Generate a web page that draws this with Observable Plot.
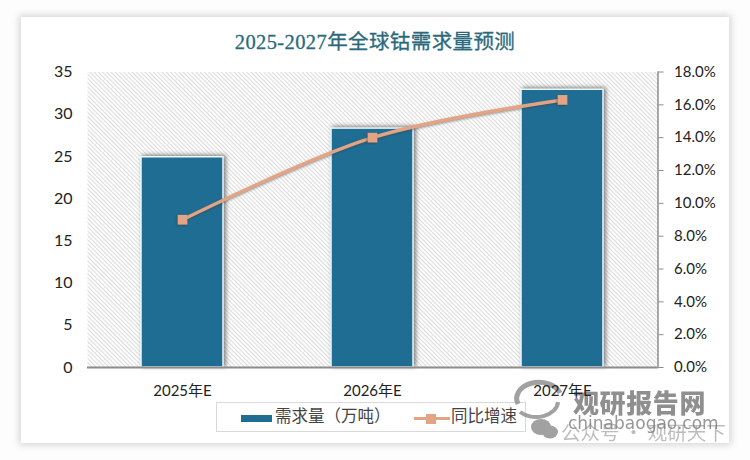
<!DOCTYPE html>
<html><head><meta charset="utf-8">
<script src="https://cdn.jsdelivr.net/npm/d3@7"></script>
<script src="https://cdn.jsdelivr.net/npm/@observablehq/plot@0.6"></script>
<style>
html,body{margin:0;padding:0;background:#fff;}
#wrap{position:relative;width:750px;height:460px;overflow:hidden;background:#fdfdfd;}
#card{position:absolute;left:21px;top:17px;width:708px;height:426px;background:#fff;box-shadow:0 0 7px 2px rgba(0,0,0,.16);}
#title{position:absolute;left:0;width:750px;top:27px;text-align:center;font:400 20.5px/30px "Liberation Serif","Noto Sans CJK SC",serif;-webkit-text-stroke:.3px #2a6a7c;color:#2a6a7c;letter-spacing:.4px;}
#plot{position:absolute;left:0;top:0;z-index:3;}
#legend{position:absolute;left:216px;top:402px;width:310px;height:30px;border:1px solid #d9d9d9;box-sizing:border-box;background:#fff;font:16.5px/28px "Liberation Serif","Noto Sans CJK SC",serif;color:#444;}
#legend span{position:absolute;top:0;white-space:nowrap;}
#legend i{position:absolute;display:block;}
.wm{position:absolute;white-space:nowrap;color:#7c7c7c;}
#logo{position:absolute;left:0;top:0;}
.bars rect{filter:drop-shadow(2px -1px 2px rgba(40,40,40,.6));}
.gline path{filter:drop-shadow(0 1px 1px rgba(60,60,60,.5));}
.gdots path{filter:drop-shadow(-1px 1px 1px rgba(60,60,60,.6));}
</style></head><body>
<div id="wrap">
<div id="card"></div>
<div id="legend">
<i style="left:24px;top:12px;width:31px;height:7px;background:#1f6d93"></i><span style="left:58px">需求量（万吨）</span>
<i style="left:197px;top:14px;width:36px;height:3px;background:#e3a485"></i><i style="left:209px;top:10.5px;width:10px;height:10px;background:#e3a485"></i><span style="left:234px">同比增速</span>
</div>
<div id="title">2025-2027年全球钴需求量预测</div>
<svg id="logo" width="750" height="460" fill="none" opacity=".8">
<path d="M518 404 A22 16 0 0 1 560 393" stroke="#8a8a8a" stroke-width="5"/>
<path d="M558 402 A22 16 0 0 1 520 412" stroke="#8a8a8a" stroke-width="4"/>
<ellipse cx="541" cy="427" rx="10" ry="8" fill="#8a8a8a"/><ellipse cx="550" cy="432" rx="8" ry="6.5" fill="#8a8a8a"/>
</svg>
<div class="wm" style="left:573px;top:384px;font:900 26px/36px 'Noto Sans CJK SC';letter-spacing:.6px;opacity:.85">观研报告网</div>
<div class="wm" style="left:568px;top:412px;font:17px/22px 'DejaVu Sans';opacity:.8">chinabaogao.com</div>
<div class="wm" style="left:561px;top:420px;font:19.5px/24px 'Noto Sans CJK SC';opacity:.5">公众号 · 观研天下</div>
<div id="plot"></div>
</div>
<script>
const years = ["2025年E","2026年E","2027年E"];
const demand = [24.9,28.3,32.9];
const growth = [0.09,0.14,0.163];
const leftTicks = [0,5,10,15,20,25,30,35];
const rightTicks = [0,0.02,0.04,0.06,0.08,0.10,0.12,0.14,0.16,0.18];
const yMax = 35, rMax = 0.18;
const toLeft = r => r * yMax / rMax;
const rows = years.map((y,i)=>({year:y,demand:demand[i],growth:toLeft(growth[i])}));

function hatchDefs(){
  const ns="http://www.w3.org/2000/svg";
  const defs=document.createElementNS(ns,"defs");
  defs.innerHTML=`<pattern id="hatch" width="3" height="3" patternUnits="userSpaceOnUse" patternTransform="rotate(-45)"><rect width="3" height="3" fill="#fcfcfc"/><rect x="0" width="1" height="3" fill="#dcdcdc"/></pattern>`;
  return defs;
}
const chart = Plot.plot({
  width:750,height:460,
  marginLeft:87,marginRight:92.5,marginTop:71.5,marginBottom:93,
  style:{background:"transparent",fontFamily:"Lato,'Noto Sans CJK SC',sans-serif",overflow:"visible"},
  x:{domain:years,paddingInner:0.57,paddingOuter:0.285,label:null},
  y:{domain:[0,yMax],label:null},
  marks:[
    hatchDefs,
    Plot.frame({fill:"url(#hatch)",stroke:null}),
    Plot.barY(rows,{x:"year",y:"demand",fill:"#1f6d93",stroke:"#eefafa",strokeWidth:1.5,className:"bars"}),
    Plot.ruleY([0],{stroke:"#8c8c8c",strokeWidth:2}),
    Plot.axisX({tickSize:0,tickPadding:18,fontSize:15,fill:"#222",label:null}),
    Plot.axisY({ticks:leftTicks,tickSize:0,tickPadding:15,fontSize:16,fill:"#222",label:null}),
    Plot.axisY({anchor:"right",ticks:rightTicks.map(toLeft),tickFormat:d=>(d*rMax/yMax*100).toFixed(1)+"%",
      tickSize:5,tickPadding:11,fontSize:15,fill:"#222",stroke:"#8c8c8c",label:null}),
    Plot.frame({anchor:"right",stroke:"#8c8c8c",strokeWidth:1.5}),
    Plot.lineY(rows,{x:"year",y:"growth",curve:"catmull-rom",stroke:"#e3a485",strokeWidth:3.5,className:"gline"}),
    Plot.dot(rows,{x:"year",y:"growth",symbol:"square",r:5.5,fill:"#e3a485",className:"gdots"})
  ]
});
document.getElementById("plot").append(chart);
</script>
</body></html>
